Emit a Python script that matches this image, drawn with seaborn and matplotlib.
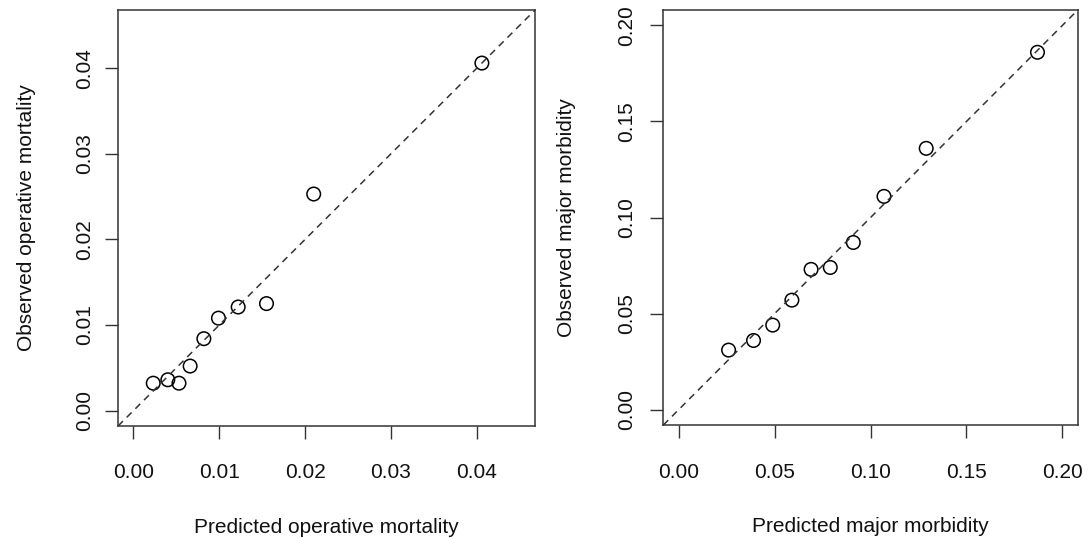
import matplotlib
matplotlib.use("Agg")
import matplotlib.pyplot as plt
import numpy as np
import pandas as pd
import seaborn as sns

# Calibration data (predicted vs observed)
pred_mortality = [0.0023, 0.0040, 0.0053, 0.0066, 0.0082, 0.0099, 0.0122, 0.0155, 0.0210, 0.0406]
obs_mortality = [0.0032, 0.0036, 0.0032, 0.0052, 0.0084, 0.0108, 0.0121, 0.0125, 0.0253, 0.0406]

pred_morbidity = [0.026, 0.039, 0.049, 0.059, 0.069, 0.079, 0.091, 0.107, 0.129, 0.187]
obs_morbidity = [0.031, 0.036, 0.044, 0.057, 0.073, 0.074, 0.087, 0.111, 0.136, 0.186]

mort_ticks = [0.00, 0.01, 0.02, 0.03, 0.04]
morb_ticks = [0.00, 0.05, 0.10, 0.15, 0.20]

mort_df = pd.DataFrame({"pred": pred_mortality, "obs": obs_mortality})
morb_df = pd.DataFrame({"pred": pred_morbidity, "obs": obs_morbidity})

sns.set_style("ticks")
plt.rcParams["font.family"] = ["Liberation Sans", "DejaVu Sans"]

fig = plt.figure(figsize=(10.88, 5.38), dpi=100)
ax1 = fig.add_axes([0.1085, 0.2082, 0.3833, 0.7732])
ax2 = fig.add_axes([0.6097, 0.2100, 0.3809, 0.7714])


def calib_panel(ax, df, ticks, lim, xlab, ylab, ylab_x, ypad):
    sns.scatterplot(data=df, x="pred", y="obs", ax=ax, marker="o", s=95,
                    facecolor="none", edgecolor="black", linewidth=1.1)
    # identity line (abline 0,1)
    ax.axline((0, 0), slope=1, color="#333333", lw=1.1, ls=(0, (4.5, 3.5)))
    ax.set_xlim(lim)
    ax.set_ylim(lim)
    ax.set_xticks(ticks)
    ax.set_yticks(ticks)
    ax.set_xticklabels([f"{t:.2f}" for t in ticks])
    ax.set_yticklabels([f"{t:.2f}" for t in ticks], rotation=90, va="center")
    ax.tick_params(axis="both", direction="out", length=9.5, width=1,
                   color="#333333", labelsize=15, labelcolor="#111111")
    ax.tick_params(axis="x", pad=17.5)
    ax.tick_params(axis="y", pad=ypad)
    for sp in ax.spines.values():
        sp.set_visible(True)
        sp.set_color("#333333")
        sp.set_linewidth(1.1)
    ax.set_xlabel(xlab, fontsize=15, color="#111111")
    ax.set_ylabel(ylab, fontsize=15, color="#111111")
    ax.xaxis.set_label_coords(0.5, -0.245)
    ax.xaxis.label.set_verticalalignment("center")
    ax.yaxis.set_label_coords(ylab_x, 0.5)
    ax.yaxis.label.set_verticalalignment("center")


# R-style 4% extension of the plotting range
calib_panel(ax1, mort_df, mort_ticks, (-0.0018, 0.0468),
            "Predicted operative mortality", "Observed operative mortality", -0.22, 7.5)
calib_panel(ax2, morb_df, morb_ticks, (-0.008, 0.208),
            "Predicted major morbidity", "Observed major morbidity", -0.233, 10)

plt.savefig("out.png", dpi=100)
